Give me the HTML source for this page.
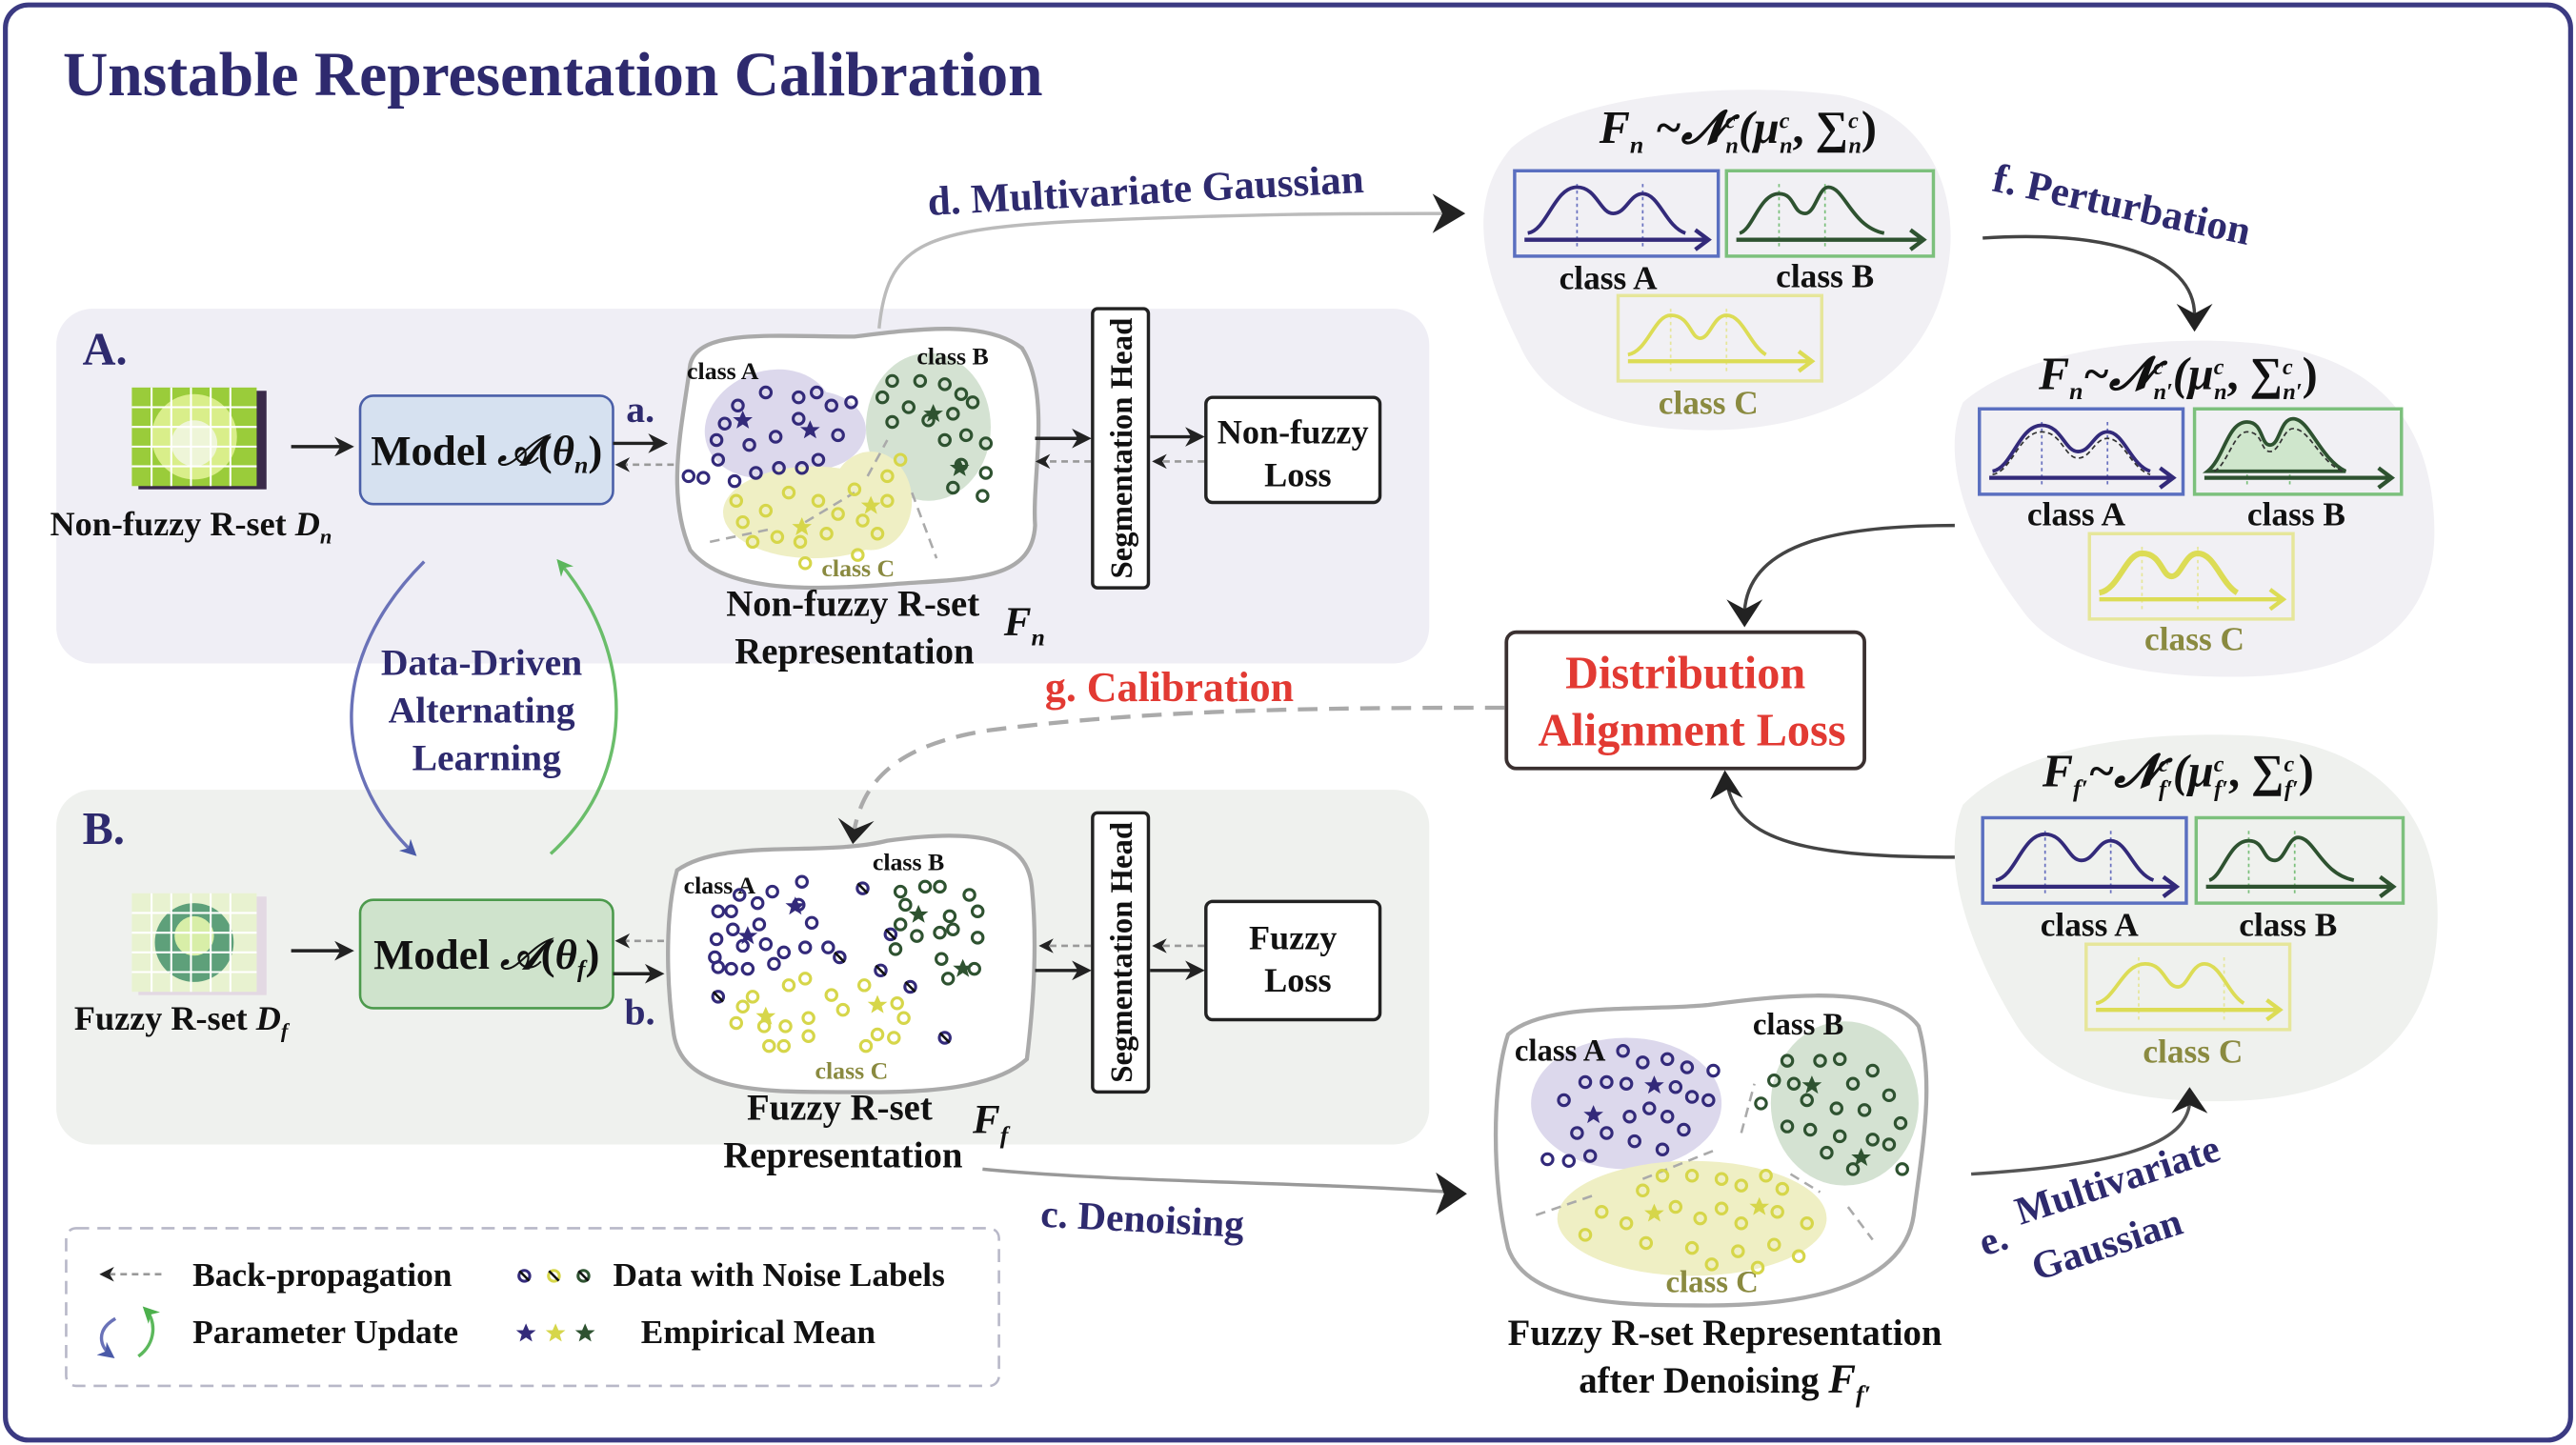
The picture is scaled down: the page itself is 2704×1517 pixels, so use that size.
<!DOCTYPE html>
<html><head><meta charset="utf-8"><style>
html,body{margin:0;padding:0;background:#fff}
svg{display:block}
text{font-family:"Liberation Serif",serif;font-weight:bold}
</style></head><body>
<svg width="2704" height="1517" viewBox="0 0 1568 880" xmlns="http://www.w3.org/2000/svg">
<defs>
<marker id="ah" viewBox="0 0 10 10" refX="8" refY="5" markerWidth="6" markerHeight="6" orient="auto-start-reverse"><path d="M0,0 L10,5 L0,10 L3,5Z" fill="#222"/></marker>
<marker id="ahb" viewBox="0 0 10 10" refX="8" refY="5" markerWidth="5" markerHeight="5" orient="auto"><path d="M0,0 L10,5 L0,10 L3,5Z" fill="#4a5aa8"/></marker>
<marker id="ahgr" viewBox="0 0 10 10" refX="8" refY="5" markerWidth="5" markerHeight="5" orient="auto"><path d="M0,0 L10,5 L0,10 L3,5Z" fill="#4cb04c"/></marker>
<g id="ca"><circle r="3.3" fill="none" stroke="#332a7a" stroke-width="1.8"/></g>
<g id="cb"><circle r="3.3" fill="none" stroke="#2e5230" stroke-width="1.8"/></g>
<g id="cc"><circle r="3.3" fill="none" stroke="#d6d64a" stroke-width="1.8"/></g>
<g id="cn"><circle r="3.3" fill="none" stroke="#332a7a" stroke-width="1.8"/><line x1="-3" y1="-3" x2="3" y2="3" stroke="#111" stroke-width="1.5"/></g>
<path id="star" d="M0,-6 L1.8,-1.9 6,-1.9 2.6,0.8 3.8,5 0,2.5 -3.8,5 -2.6,0.8 -6,-1.9 -1.8,-1.9Z"/>
<path id="bim" d="M8,38 C20,36 24,10 38,10 C50,10 52,26 60,26 C68,26 70,14 78,14 C88,14 92,34 104,38" fill="none" stroke-width="2.2"/>
</defs>

<rect x="3" y="3" width="1562" height="874" rx="14" fill="#fff" stroke="#3b3a82" stroke-width="3"/>
<text x="38" y="58" font-size="38" fill="#2e2a6e">Unstable Representation Calibration</text>

<rect x="34" y="188" width="836" height="216" rx="22" fill="#efeef5"/>
<rect x="34" y="481" width="836" height="216" rx="22" fill="#eff1ee"/>
<text x="50" y="222" font-size="28" fill="#2e2a6e">A.</text>
<text x="50" y="514" font-size="28" fill="#2e2a6e">B.</text>

<g>
<rect x="84" y="238" width="78" height="60" fill="#3a2a4a"/>
<rect x="80" y="236" width="76" height="60" fill="#9acc3a"/>
<circle cx="118" cy="266" r="26" fill="#d9ee8a"/><circle cx="118" cy="270" r="14" fill="#eef5d8"/>
<path d="M80,248H156M80,260H156M80,272H156M80,284H156M92,236V296M104,236V296M116,236V296M128,236V296M140,236V296" stroke="#fff" stroke-width="1.2"/>
</g>
<g>
<rect x="84" y="546" width="78" height="60" fill="#e3d9e3"/>
<rect x="80" y="544" width="76" height="60" fill="#e8f2d0"/>
<circle cx="118" cy="574" r="24" fill="#5ea07a"/><circle cx="118" cy="570" r="12" fill="#d8eea8"/>
<path d="M80,556H156M80,568H156M80,580H156M80,592H156M92,544V604M104,544V604M116,544V604M128,544V604M140,544V604" stroke="#fff" stroke-width="1.2"/>
</g>
<text x="116" y="326" font-size="21" fill="#111" text-anchor="middle">Non-fuzzy R-set <tspan font-style="italic">D</tspan><tspan font-size="13" dy="5" font-style="italic">n</tspan></text>
<text x="110" y="627" font-size="21" fill="#111" text-anchor="middle">Fuzzy R-set <tspan font-style="italic">D</tspan><tspan font-size="13" dy="5" font-style="italic">f</tspan></text>

<line x1="177" y1="272" x2="213" y2="272" stroke="#222" stroke-width="2" marker-end="url(#ah)"/>
<line x1="177" y1="579" x2="213" y2="579" stroke="#222" stroke-width="2" marker-end="url(#ah)"/>

<rect x="219" y="241" width="154" height="66" rx="8" fill="#d6e1f0" stroke="#4a5fa8" stroke-width="1.5"/>
<text x="296" y="283" font-size="26" fill="#111" text-anchor="middle">Model <tspan font-style="italic" font-family="'DejaVu Serif',serif">𝒜</tspan>(<tspan font-style="italic">θ</tspan><tspan font-size="15" dy="5" font-style="italic">n</tspan><tspan dy="-5">)</tspan></text>
<rect x="219" y="548" width="154" height="66" rx="8" fill="#cfe3cc" stroke="#4c9a4c" stroke-width="1.5"/>
<text x="296" y="590" font-size="26" fill="#111" text-anchor="middle">Model <tspan font-style="italic" font-family="'DejaVu Serif',serif">𝒜</tspan>(<tspan font-style="italic">θ</tspan><tspan font-size="15" dy="5" font-style="italic">f</tspan><tspan dy="-5">)</tspan></text>

<text x="381" y="257" font-size="23" fill="#2e2a6e">a.</text>
<text x="380" y="624" font-size="23" fill="#2e2a6e">b.</text>
<line x1="373" y1="270" x2="404" y2="270" stroke="#222" stroke-width="2" marker-end="url(#ah)"/>
<line x1="410" y1="283" x2="376" y2="283" stroke="#999" stroke-width="1.5" stroke-dasharray="4,3" marker-end="url(#ah)"/>
<line x1="373" y1="593" x2="402" y2="593" stroke="#222" stroke-width="2" marker-end="url(#ah)"/>
<line x1="404" y1="573" x2="376" y2="573" stroke="#999" stroke-width="1.5" stroke-dasharray="4,3" marker-end="url(#ah)"/>

<path d="M258,342 C200,400 200,470 252,520" fill="none" stroke="#6a72b8" stroke-width="2" marker-end="url(#ahb)"/>
<path d="M335,520 C390,470 385,395 340,342" fill="none" stroke="#5cb85c" stroke-width="2" marker-end="url(#ahgr)" opacity="0.9"/>
<text x="293" y="411" font-size="23" fill="#2e2a6e" text-anchor="middle">Data-Driven</text>
<text x="293" y="440" font-size="23" fill="#2e2a6e" text-anchor="middle">Alternating</text>
<text x="296" y="469" font-size="23" fill="#2e2a6e" text-anchor="middle">Learning</text>

<path d="M535,200 C540,150 560,140 650,135 C760,130 820,130 888,130" fill="none" stroke="#bbb" stroke-width="2"/>
<path d="M872,118 L892,130 L872,142 L878,130Z" fill="#222"/>
<text x="565" y="131" font-size="25" fill="#2e2a6e" transform="rotate(-3 565 131)">d. Multivariate Gaussian</text>

<path d="M420,222 C425,200 470,205 520,205 C560,200 600,195 622,212 C640,240 628,290 630,320 C628,355 590,352 540,356 C490,360 440,360 420,335 C405,300 415,260 420,222Z" fill="#fff" stroke="#aaa" stroke-width="2.5"/>
<ellipse cx="468" cy="258" rx="40" ry="32" fill="#dcd8ec" transform="rotate(-20 468 258)"/>
<ellipse cx="495" cy="262" rx="32" ry="24" fill="#dcd8ec"/>
<ellipse cx="565" cy="260" rx="38" ry="45" fill="#d4e2d2"/>
<ellipse cx="495" cy="312" rx="55" ry="28" fill="#efefc4"/>
<ellipse cx="530" cy="305" rx="25" ry="30" fill="#efefc4"/>
<path d="M432,330 L470,322 M490,318 L520,300 M528,290 L540,268 M555,300 L570,340" stroke="#aaa" stroke-width="1.5" stroke-dasharray="6,4" fill="none"/>
<text x="418" y="231" font-size="15" fill="#111">class A</text>
<text x="558" y="222" font-size="15" fill="#111">class B</text>
<text x="500" y="351" font-size="15" fill="#8a8a40">class C</text>
<g>
<use href="#ca" x="449" y="247"/><use href="#ca" x="466" y="239"/><use href="#ca" x="441" y="258"/><use href="#ca" x="436" y="268"/><use href="#ca" x="456" y="271"/><use href="#ca" x="472" y="266"/><use href="#ca" x="437" y="280"/><use href="#ca" x="447" y="293"/><use href="#ca" x="460" y="288"/><use href="#ca" x="474" y="285"/><use href="#ca" x="486" y="242"/><use href="#ca" x="497" y="239"/><use href="#ca" x="506" y="247"/><use href="#ca" x="486" y="255"/><use href="#ca" x="510" y="265"/><use href="#ca" x="498" y="280"/><use href="#ca" x="488" y="285"/><use href="#ca" x="419" y="290"/><use href="#ca" x="428" y="291"/><use href="#ca" x="518" y="245"/>
<use href="#star" x="452" y="256" fill="#332a7a"/><use href="#star" x="493" y="262" fill="#332a7a"/>
<use href="#cb" x="543" y="232"/><use href="#cb" x="560" y="232"/><use href="#cb" x="575" y="234"/><use href="#cb" x="585" y="240"/><use href="#cb" x="537" y="242"/><use href="#cb" x="553" y="248"/><use href="#cb" x="565" y="256"/><use href="#cb" x="580" y="252"/><use href="#cb" x="592" y="245"/><use href="#cb" x="543" y="257"/><use href="#cb" x="588" y="265"/><use href="#cb" x="575" y="268"/><use href="#cb" x="585" y="283"/><use href="#cb" x="600" y="270"/><use href="#cb" x="600" y="288"/><use href="#cb" x="598" y="302"/><use href="#cb" x="580" y="297"/>
<use href="#star" x="568" y="252" fill="#2e5230"/><use href="#star" x="584" y="285" fill="#2e5230"/>
<use href="#cc" x="520" y="298"/><use href="#cc" x="540" y="290"/><use href="#cc" x="548" y="280"/><use href="#cc" x="510" y="313"/><use href="#cc" x="498" y="305"/><use href="#cc" x="480" y="300"/><use href="#cc" x="466" y="311"/><use href="#cc" x="452" y="318"/><use href="#cc" x="458" y="330"/><use href="#cc" x="473" y="327"/><use href="#cc" x="487" y="330"/><use href="#cc" x="503" y="325"/><use href="#cc" x="525" y="317"/><use href="#cc" x="540" y="305"/><use href="#cc" x="448" y="305"/><use href="#cc" x="490" y="343"/><use href="#cc" x="522" y="338"/><use href="#cc" x="534" y="325"/>
<use href="#star" x="488" y="321" fill="#d6d64a"/><use href="#star" x="530" y="308" fill="#d6d64a"/>
</g>
<text x="519" y="375" font-size="22.5" fill="#111" text-anchor="middle">Non-fuzzy R-set</text>
<text x="520" y="404" font-size="22.5" fill="#111" text-anchor="middle">Representation</text>
<text x="611" y="387" font-size="25" fill="#111" font-style="italic">F<tspan font-size="15" dy="6">n</tspan></text>

<path d="M412,530 C440,510 500,522 540,512 C590,505 625,508 628,540 C632,580 628,620 625,645 C600,668 540,665 500,665 C450,665 415,660 410,630 C405,595 405,555 412,530Z" fill="#fff" stroke="#aaa" stroke-width="2.5"/>
<text x="416" y="544" font-size="15" fill="#111">class A</text>
<text x="531" y="530" font-size="15" fill="#111">class B</text>
<text x="496" y="657" font-size="15" fill="#8a8a40">class C</text>
<g>
<use href="#ca" x="450" y="545"/><use href="#ca" x="461" y="550"/><use href="#ca" x="470" y="543"/><use href="#ca" x="488" y="537"/><use href="#ca" x="486" y="551"/><use href="#ca" x="437" y="555"/><use href="#ca" x="445" y="555"/><use href="#ca" x="446" y="566"/><use href="#ca" x="462" y="563"/><use href="#ca" x="494" y="562"/><use href="#ca" x="436" y="572"/><use href="#ca" x="452" y="576"/><use href="#ca" x="466" y="575"/><use href="#ca" x="477" y="580"/><use href="#ca" x="490" y="577"/><use href="#ca" x="435" y="583"/><use href="#ca" x="437" y="589"/><use href="#ca" x="445" y="590"/><use href="#ca" x="455" y="590"/><use href="#ca" x="504" y="577"/><use href="#ca" x="471" y="587"/>
<use href="#star" x="484" y="552" fill="#332a7a"/><use href="#star" x="455" y="570" fill="#332a7a"/>
<use href="#cn" x="525" y="541"/><use href="#cn" x="542" y="569"/><use href="#cn" x="511" y="583"/><use href="#cn" x="536" y="591"/><use href="#cn" x="437" y="607"/><use href="#cn" x="554" y="601"/>
<use href="#cb" x="548" y="543"/><use href="#cb" x="563" y="540"/><use href="#cb" x="572" y="540"/><use href="#cb" x="590" y="545"/><use href="#cb" x="551" y="551"/><use href="#cb" x="578" y="558"/><use href="#cb" x="595" y="555"/><use href="#cb" x="548" y="563"/><use href="#cb" x="558" y="570"/><use href="#cb" x="572" y="568"/><use href="#cb" x="580" y="566"/><use href="#cb" x="595" y="571"/><use href="#cb" x="545" y="578"/><use href="#cb" x="573" y="584"/><use href="#cb" x="593" y="590"/><use href="#cb" x="577" y="596"/>
<use href="#star" x="559" y="557" fill="#2e5230"/><use href="#star" x="586" y="590" fill="#2e5230"/>
<use href="#cc" x="458" y="607"/><use href="#cc" x="452" y="613"/><use href="#cc" x="448" y="623"/><use href="#cc" x="465" y="625"/><use href="#cc" x="478" y="625"/><use href="#cc" x="492" y="620"/><use href="#cc" x="492" y="631"/><use href="#cc" x="477" y="637"/><use href="#cc" x="468" y="637"/><use href="#cc" x="506" y="606"/><use href="#cc" x="513" y="615"/><use href="#cc" x="490" y="596"/><use href="#cc" x="480" y="600"/><use href="#cc" x="526" y="600"/><use href="#cc" x="534" y="630"/><use href="#cc" x="544" y="632"/><use href="#cc" x="527" y="637"/><use href="#cc" x="546" y="611"/><use href="#cc" x="550" y="620"/>
<use href="#star" x="466" y="619" fill="#d6d64a"/><use href="#star" x="534" y="612" fill="#d6d64a"/>
<use href="#cn" x="575" y="632"/>
</g>
<text x="511" y="682" font-size="22.5" fill="#111" text-anchor="middle">Fuzzy R-set</text>
<text x="513" y="711" font-size="22.5" fill="#111" text-anchor="middle">Representation</text>
<text x="592" y="690" font-size="25" fill="#111" font-style="italic">F<tspan font-size="15" dy="6">f</tspan></text>

<line x1="630" y1="267" x2="662" y2="267" stroke="#222" stroke-width="2" marker-end="url(#ah)"/>
<line x1="664" y1="281" x2="632" y2="281" stroke="#999" stroke-width="1.5" stroke-dasharray="4,3" marker-end="url(#ah)"/>
<line x1="630" y1="591" x2="662" y2="591" stroke="#222" stroke-width="2" marker-end="url(#ah)"/>
<line x1="664" y1="576" x2="634" y2="576" stroke="#999" stroke-width="1.5" stroke-dasharray="4,3" marker-end="url(#ah)"/>
<rect x="665" y="188" width="34" height="170" rx="3" fill="#fff" stroke="#222" stroke-width="2"/>
<text transform="translate(689 273) rotate(-90)" font-size="19" fill="#111" text-anchor="middle">Segmentation Head</text>
<rect x="665" y="495" width="34" height="170" rx="3" fill="#fff" stroke="#222" stroke-width="2"/>
<text transform="translate(689 580) rotate(-90)" font-size="19" fill="#111" text-anchor="middle">Segmentation Head</text>
<line x1="700" y1="266" x2="731" y2="266" stroke="#222" stroke-width="2" marker-end="url(#ah)"/>
<line x1="733" y1="281" x2="703" y2="281" stroke="#999" stroke-width="1.5" stroke-dasharray="4,3" marker-end="url(#ah)"/>
<line x1="700" y1="591" x2="731" y2="591" stroke="#222" stroke-width="2" marker-end="url(#ah)"/>
<line x1="733" y1="576" x2="703" y2="576" stroke="#999" stroke-width="1.5" stroke-dasharray="4,3" marker-end="url(#ah)"/>
<rect x="734" y="242" width="106" height="64" rx="4" fill="#fff" stroke="#222" stroke-width="2"/>
<text x="787" y="270" font-size="21" fill="#111" text-anchor="middle">Non-fuzzy</text>
<text x="790" y="296" font-size="21" fill="#111" text-anchor="middle">Loss</text>
<rect x="734" y="549" width="106" height="72" rx="4" fill="#fff" stroke="#222" stroke-width="2"/>
<text x="787" y="578" font-size="21" fill="#111" text-anchor="middle">Fuzzy</text>
<text x="790" y="604" font-size="21" fill="#111" text-anchor="middle">Loss</text>

<rect x="40" y="748" width="568" height="96" rx="6" fill="none" stroke="#b8b8c8" stroke-width="1.5" stroke-dasharray="8,5"/>
<line x1="98" y1="776" x2="62" y2="776" stroke="#999" stroke-width="1.5" stroke-dasharray="4,3" marker-end="url(#ah)"/>
<path d="M70,803 C58,810 60,820 68,826" fill="none" stroke="#6a72b8" stroke-width="2" marker-end="url(#ahb)"/>
<path d="M84,826 C95,818 95,804 88,797" fill="none" stroke="#5cb85c" stroke-width="2" marker-end="url(#ahgr)"/>
<text x="117" y="783" font-size="20.5" fill="#111">Back-propagation</text>
<text x="117" y="818" font-size="20.5" fill="#111">Parameter Update</text>
<use href="#cn" x="319" y="777"/><g transform="translate(337 777)"><circle r="3.3" fill="none" stroke="#d6d64a" stroke-width="1.8"/><line x1="-3" y1="-3" x2="3" y2="3" stroke="#111" stroke-width="1.5"/></g><g transform="translate(355 777)"><circle r="3.3" fill="none" stroke="#2e5230" stroke-width="1.8"/><line x1="-3" y1="-3" x2="3" y2="3" stroke="#111" stroke-width="1.5"/></g>
<text x="373" y="783" font-size="20.5" fill="#111">Data with Noise Labels</text>
<use href="#star" x="320" y="812" fill="#332a7a"/><use href="#star" x="338" y="812" fill="#d6d64a"/><use href="#star" x="356" y="812" fill="#2e5230"/>
<text x="390" y="818" font-size="20.5" fill="#111">Empirical Mean</text>

<path d="M598,712 C680,720 800,720 884,726" fill="none" stroke="#999" stroke-width="2"/>
<path d="M874,714 L893,727 L874,740 L879,727Z" fill="#222"/>
<text x="633" y="747" font-size="24" fill="#2e2a6e" transform="rotate(3 633 747)">c.  Denoising</text>

<path d="M918,630 C940,610 1000,616 1040,612 C1090,605 1150,600 1168,625 C1178,660 1170,700 1165,740 C1158,790 1080,795 1040,795 C990,795 930,795 918,760 C908,720 908,660 918,630Z" fill="#fff" stroke="#aaa" stroke-width="2.5"/>
<ellipse cx="990" cy="672" rx="58" ry="40" fill="#dcd8ec"/>
<ellipse cx="1123" cy="672" rx="45" ry="50" fill="#d4e2d2"/>
<ellipse cx="1030" cy="742" rx="82" ry="35" fill="#efefc4"/>
<path d="M935,740 L970,728 M1000,718 L1045,700 M1060,690 L1068,660 M1090,715 L1108,726 M1125,735 L1140,755" stroke="#aaa" stroke-width="1.5" stroke-dasharray="6,4"/>
<text x="922" y="646" font-size="19" fill="#111">class A</text>
<text x="1067" y="630" font-size="19" fill="#111">class B</text>
<text x="1014" y="787" font-size="19" fill="#8a8a40">class C</text>
<g>
<use href="#ca" x="988" y="640"/><use href="#ca" x="1000" y="647"/><use href="#ca" x="1015" y="645"/><use href="#ca" x="1027" y="650"/><use href="#ca" x="1043" y="652"/><use href="#ca" x="965" y="659"/><use href="#ca" x="978" y="659"/><use href="#ca" x="990" y="660"/><use href="#ca" x="1020" y="662"/><use href="#ca" x="1030" y="668"/><use href="#ca" x="952" y="670"/><use href="#ca" x="992" y="680"/><use href="#ca" x="1004" y="675"/><use href="#ca" x="1015" y="680"/><use href="#ca" x="1040" y="670"/><use href="#ca" x="960" y="690"/><use href="#ca" x="978" y="690"/><use href="#ca" x="995" y="695"/><use href="#ca" x="1025" y="688"/><use href="#ca" x="942" y="706"/><use href="#ca" x="955" y="707"/><use href="#ca" x="968" y="704"/><use href="#ca" x="1012" y="700"/>
<use href="#star" x="1007" y="661" fill="#332a7a"/><use href="#star" x="970" y="679" fill="#332a7a"/>
<use href="#cb" x="1088" y="646"/><use href="#cb" x="1108" y="646"/><use href="#cb" x="1120" y="645"/><use href="#cb" x="1140" y="652"/><use href="#cb" x="1080" y="658"/><use href="#cb" x="1092" y="660"/><use href="#cb" x="1128" y="660"/><use href="#cb" x="1150" y="667"/><use href="#cb" x="1072" y="672"/><use href="#cb" x="1100" y="670"/><use href="#cb" x="1118" y="675"/><use href="#cb" x="1135" y="676"/><use href="#cb" x="1157" y="684"/><use href="#cb" x="1088" y="686"/><use href="#cb" x="1102" y="688"/><use href="#cb" x="1120" y="692"/><use href="#cb" x="1140" y="694"/><use href="#cb" x="1150" y="697"/><use href="#cb" x="1112" y="702"/><use href="#cb" x="1128" y="712"/><use href="#cb" x="1158" y="712"/>
<use href="#star" x="1103" y="661" fill="#2e5230"/><use href="#star" x="1133" y="705" fill="#2e5230"/>
<use href="#cc" x="1000" y="725"/><use href="#cc" x="1012" y="716"/><use href="#cc" x="1030" y="716"/><use href="#cc" x="1048" y="718"/><use href="#cc" x="1060" y="722"/><use href="#cc" x="1075" y="716"/><use href="#cc" x="1085" y="724"/><use href="#cc" x="975" y="738"/><use href="#cc" x="990" y="745"/><use href="#cc" x="1020" y="735"/><use href="#cc" x="1035" y="742"/><use href="#cc" x="1048" y="736"/><use href="#cc" x="1060" y="745"/><use href="#cc" x="1082" y="738"/><use href="#cc" x="1100" y="745"/><use href="#cc" x="965" y="752"/><use href="#cc" x="1002" y="757"/><use href="#cc" x="1030" y="760"/><use href="#cc" x="1058" y="762"/><use href="#cc" x="1080" y="758"/><use href="#cc" x="1095" y="765"/><use href="#cc" x="1042" y="770"/><use href="#cc" x="1070" y="772"/>
<use href="#star" x="1007" y="739" fill="#d6d64a"/><use href="#star" x="1071" y="735" fill="#d6d64a"/>
</g>
<text x="1050" y="819" font-size="22.5" fill="#111" text-anchor="middle">Fuzzy R-set Representation</text>
<text x="1050" y="848" font-size="22.5" fill="#111" text-anchor="middle">after Denoising  <tspan font-style="italic" font-size="25">F</tspan><tspan font-style="italic" font-size="15" dy="6">f′</tspan></text>

<path d="M920,90 C960,55 1060,50 1120,58 C1180,70 1200,130 1180,185 C1160,240 1100,262 1040,262 C980,262 940,245 925,210 C905,170 890,125 920,90Z" fill="#f1f0f4"/>
<text x="1058" y="87" font-size="28" fill="#111" text-anchor="middle" font-style="italic">F<tspan font-size="15" dy="6">n</tspan><tspan dy="-6"> ~𝓝</tspan><tspan font-size="14" dy="-9">c</tspan><tspan font-size="14" dx="-6" dy="15">n</tspan><tspan dy="-6">(μ</tspan><tspan font-size="14" dy="-9">c</tspan><tspan font-size="14" dx="-6" dy="15">n</tspan><tspan dy="-6" font-style="normal">,  ∑</tspan><tspan font-size="14" dy="-9">c</tspan><tspan font-size="14" dx="-6" dy="15">n</tspan><tspan dy="-6" font-style="normal">)</tspan></text>
<g transform="translate(922 104)"><rect width="124" height="52" fill="none" stroke="#5a6fc0" stroke-width="2"/><path d="M38,8V46M78,8V46" stroke="#6a72c0" stroke-dasharray="2,2"/><use href="#bim" stroke="#332a7a"/><path d="M6,42H118M110,36L118,42L110,48" fill="none" stroke="#332a7a" stroke-width="2.5"/></g>
<g transform="translate(1051 104)"><rect width="126" height="52" fill="none" stroke="#7cc07c" stroke-width="2"/><path d="M32,8V46M60,8V46" stroke="#7cc07c" stroke-dasharray="2,2"/><path d="M8,38 C16,36 20,14 32,14 C42,14 40,26 48,26 C54,26 56,10 62,10 C72,10 76,34 96,38" fill="none" stroke="#2e5230" stroke-width="2.2"/><path d="M6,42H120M112,36L120,42L112,48" fill="none" stroke="#2e5230" stroke-width="2.5"/></g>
<g transform="translate(985 180)"><rect width="124" height="52" fill="none" stroke="#e6e69a" stroke-width="2"/><path d="M32,8V46M66,8V46" stroke="#e6e69a" stroke-dasharray="2,2"/><path d="M6,36 C18,34 22,12 32,12 C44,12 44,26 50,26 C56,26 58,12 66,12 C76,12 80,30 90,36" fill="none" stroke="#dcdc55" stroke-width="2.2"/><path d="M6,40H118M110,34L118,40L110,46" fill="none" stroke="#dcdc55" stroke-width="2.5"/></g>
<text x="979" y="176" font-size="20.5" fill="#111" text-anchor="middle">class A</text>
<text x="1111" y="175" font-size="20.5" fill="#111" text-anchor="middle">class B</text>
<text x="1040" y="252" font-size="20.5" fill="#8a8a40" text-anchor="middle">class C</text>

<path d="M1207,145 C1280,140 1336,155 1336,192" fill="none" stroke="#444" stroke-width="2"/>
<path d="M1325,185 L1336,202 L1347,185 L1336,191Z" fill="#222"/>
<text x="1212" y="116" font-size="25" fill="#2e2a6e" transform="rotate(12 1212 116)">f. Perturbation</text>

<path d="M1195,245 C1230,215 1300,205 1360,208 C1440,212 1480,250 1482,320 C1484,380 1440,410 1370,412 C1300,414 1250,400 1230,370 C1200,330 1180,280 1195,245Z" fill="#f1f0f4"/>
<text x="1326" y="237" font-size="28" fill="#111" text-anchor="middle" font-style="italic">F<tspan font-size="15" dy="6">n</tspan><tspan dy="-6">~𝓝</tspan><tspan font-size="14" dy="-9">c</tspan><tspan font-size="14" dx="-6" dy="15">n′</tspan><tspan dy="-6">(μ</tspan><tspan font-size="14" dy="-9">c</tspan><tspan font-size="14" dx="-6" dy="15">n</tspan><tspan dy="-6" font-style="normal">,  ∑</tspan><tspan font-size="14" dy="-9">c</tspan><tspan font-size="14" dx="-6" dy="15">n′</tspan><tspan dy="-6" font-style="normal">)</tspan></text>
<g transform="translate(1205 249)"><rect width="124" height="52" fill="none" stroke="#5a6fc0" stroke-width="2"/><path d="M38,8V46M78,8V46" stroke="#6a72c0" stroke-dasharray="2,2"/><use href="#bim" stroke="#332a7a"/><path d="M8,40 C20,38 24,14 38,14 C50,14 52,30 60,30 C68,30 70,18 78,18 C88,18 92,36 104,40" fill="none" stroke="#333" stroke-dasharray="3,2"/><path d="M6,42H118M110,36L118,42L110,48" fill="none" stroke="#332a7a" stroke-width="2.5"/></g>
<g transform="translate(1336 249)"><rect width="126" height="52" fill="none" stroke="#7cc07c" stroke-width="2"/><path d="M32,8V46M58,8V46" stroke="#7cc07c" stroke-dasharray="2,2"/><path d="M8,38 C18,30 20,8 32,8 C42,8 40,22 46,22 C52,22 52,6 60,6 C70,6 76,30 92,38Z" fill="#cfe6cc" stroke="#2e5230" stroke-width="2.2"/><path d="M12,38 C20,34 24,14 32,14 C42,14 40,26 46,26 C52,26 54,12 60,12 C70,12 76,32 90,38" fill="none" stroke="#333" stroke-dasharray="3,2"/><path d="M6,42H120M112,36L120,42L112,48" fill="none" stroke="#2e5230" stroke-width="2.5"/></g>
<g transform="translate(1272 325)"><rect width="124" height="52" fill="none" stroke="#e6e69a" stroke-width="2"/><path d="M32,8V46M66,8V46" stroke="#e6e69a" stroke-dasharray="2,2"/><path d="M6,36 C18,34 22,12 32,12 C44,12 44,26 50,26 C56,26 58,12 66,12 C76,12 80,30 90,36" fill="none" stroke="#dcdc55" stroke-width="3.5"/><path d="M6,40H118M110,34L118,40L110,46" fill="none" stroke="#dcdc55" stroke-width="2.5"/></g>
<text x="1264" y="320" font-size="20.5" fill="#111" text-anchor="middle">class A</text>
<text x="1398" y="320" font-size="20.5" fill="#111" text-anchor="middle">class B</text>
<text x="1336" y="396" font-size="20.5" fill="#8a8a40" text-anchor="middle">class C</text>

<path d="M1190,320 C1120,320 1065,330 1062,372" fill="none" stroke="#444" stroke-width="2"/>
<path d="M1051,365 L1062,382 L1073,365 L1062,371Z" fill="#222"/>

<rect x="917" y="385" width="218" height="83" rx="6" fill="#fff" stroke="#3a3030" stroke-width="2.2"/>
<text x="1026" y="419" font-size="28" fill="#e23a33" text-anchor="middle">Distribution</text>
<text x="1030" y="454" font-size="28" fill="#e23a33" text-anchor="middle">Alignment Loss</text>

<path d="M916,431 C800,431 700,432 600,445 C540,455 525,480 520,505" fill="none" stroke="#aaa" stroke-width="2.5" stroke-dasharray="12,7"/>
<path d="M510,498 L519,514 L532,500 L520,505Z" fill="#222"/>
<text x="636" y="427" font-size="25.5" fill="#e23a33">g.  Calibration</text>

<path d="M1195,490 C1230,455 1300,445 1370,448 C1440,452 1485,490 1484,560 C1483,630 1440,665 1370,670 C1300,674 1250,660 1228,625 C1200,580 1180,525 1195,490Z" fill="#eff1ee"/>
<text x="1326" y="479" font-size="28" fill="#111" text-anchor="middle" font-style="italic">F<tspan font-size="15" dy="6">f′</tspan><tspan dy="-6">~𝓝</tspan><tspan font-size="14" dy="-9">c</tspan><tspan font-size="14" dx="-6" dy="15">f′</tspan><tspan dy="-6">(μ</tspan><tspan font-size="14" dy="-9">c</tspan><tspan font-size="14" dx="-6" dy="15">f′</tspan><tspan dy="-6" font-style="normal">,  ∑</tspan><tspan font-size="14" dy="-9">c</tspan><tspan font-size="14" dx="-6" dy="15">f′</tspan><tspan dy="-6" font-style="normal">)</tspan></text>
<g transform="translate(1207 498)"><rect width="124" height="52" fill="none" stroke="#5a6fc0" stroke-width="2"/><path d="M38,8V46M78,8V46" stroke="#6a72c0" stroke-dasharray="2,2"/><use href="#bim" stroke="#332a7a"/><path d="M6,42H118M110,36L118,42L110,48" fill="none" stroke="#332a7a" stroke-width="2.5"/></g>
<g transform="translate(1337 498)"><rect width="126" height="52" fill="none" stroke="#7cc07c" stroke-width="2"/><path d="M32,8V46M60,8V46" stroke="#7cc07c" stroke-dasharray="2,2"/><path d="M8,38 C16,36 20,14 32,14 C42,14 40,26 48,26 C54,26 56,12 62,12 C72,12 76,34 96,38" fill="none" stroke="#2e5230" stroke-width="2.2"/><path d="M6,42H120M112,36L120,42L112,48" fill="none" stroke="#2e5230" stroke-width="2.5"/></g>
<g transform="translate(1270 575)"><rect width="124" height="52" fill="none" stroke="#e6e69a" stroke-width="2"/><path d="M32,8V46M84,8V46" stroke="#e6e69a" stroke-dasharray="2,2"/><path d="M6,36 C18,34 22,12 36,12 C48,12 48,26 56,26 C62,26 64,12 72,12 C82,12 86,30 96,36" fill="none" stroke="#dcdc55" stroke-width="2.2"/><path d="M6,40H118M110,34L118,40L110,46" fill="none" stroke="#dcdc55" stroke-width="2.5"/></g>
<text x="1272" y="570" font-size="20.5" fill="#111" text-anchor="middle">class A</text>
<text x="1393" y="570" font-size="20.5" fill="#111" text-anchor="middle">class B</text>
<text x="1335" y="647" font-size="20.5" fill="#8a8a40" text-anchor="middle">class C</text>

<path d="M1190,522 C1110,522 1060,515 1052,480" fill="none" stroke="#444" stroke-width="2"/>
<path d="M1041,487 L1050,469 L1061,486 L1051,481Z" fill="#222"/>

<path d="M1200,715 C1280,710 1330,700 1333,672" fill="none" stroke="#555" stroke-width="2"/>
<path d="M1322,678 L1333,662 L1344,678 L1333,673Z" fill="#222"/>
<text x="1208" y="765" font-size="24" fill="#2e2a6e" transform="rotate(-18 1208 765)">e.</text>
<text x="1230" y="746" font-size="24" fill="#2e2a6e" transform="rotate(-18 1230 746)">Multivariate</text>
<text x="1240" y="780" font-size="24" fill="#2e2a6e" transform="rotate(-18 1240 780)">Gaussian</text>
</svg>
</body></html>
